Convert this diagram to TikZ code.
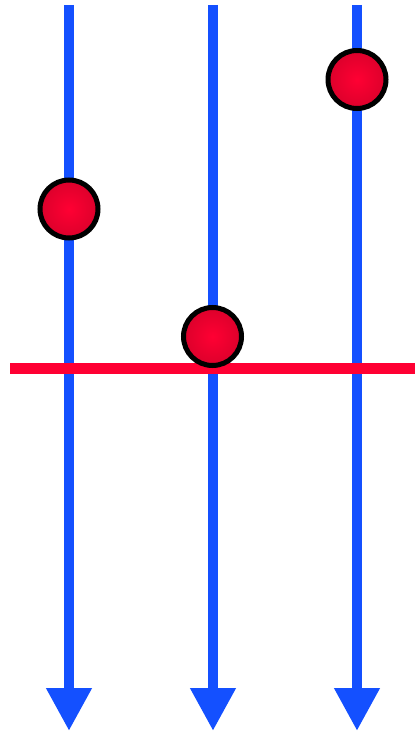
\documentclass[tikz,border=0pt]{standalone}
\usetikzlibrary{arrows.meta}
\definecolor{lineblue}{HTML}{1450FF}
\definecolor{linered}{HTML}{FF0033}
\definecolor{ballred}{HTML}{FF0033}
\definecolor{balledge}{HTML}{DC002B}
\tikzset{
  timeline/.style={draw=lineblue, line width=10.5pt,
    -{Triangle[width=43pt,length=43pt]}},
  cutline/.style={draw=linered, line width=11pt},
  ball/.style={circle, minimum size=58pt, inner sep=0pt, draw=black,
    line width=5pt, inner color=ballred, outer color=balledge}
}
\begin{document}
\begin{tikzpicture}[x=1pt,y=-1pt]
\useasboundingbox (0,0) rectangle (415,733);
% timelines
\coordinate (t1) at (69,5);   \coordinate (b1) at (69,731);
\coordinate (t2) at (213,5);  \coordinate (b2) at (213,731);
\coordinate (t3) at (357,5);  \coordinate (b3) at (357,731);
\draw[timeline] (t1) -- (b1);
\draw[timeline] (t2) -- (b2);
\draw[timeline] (t3) -- (b3);
% horizontal line
\coordinate (l) at (10,368);
\coordinate (r) at (415,368);
\draw[cutline] (l) -- (r);
% balls
\node[ball] (c1) at (69,209) {};
\node[ball] (c2) at (212.5,336.5) {};
\node[ball] (c3) at (357,79.5) {};
\end{tikzpicture}
\end{document}
